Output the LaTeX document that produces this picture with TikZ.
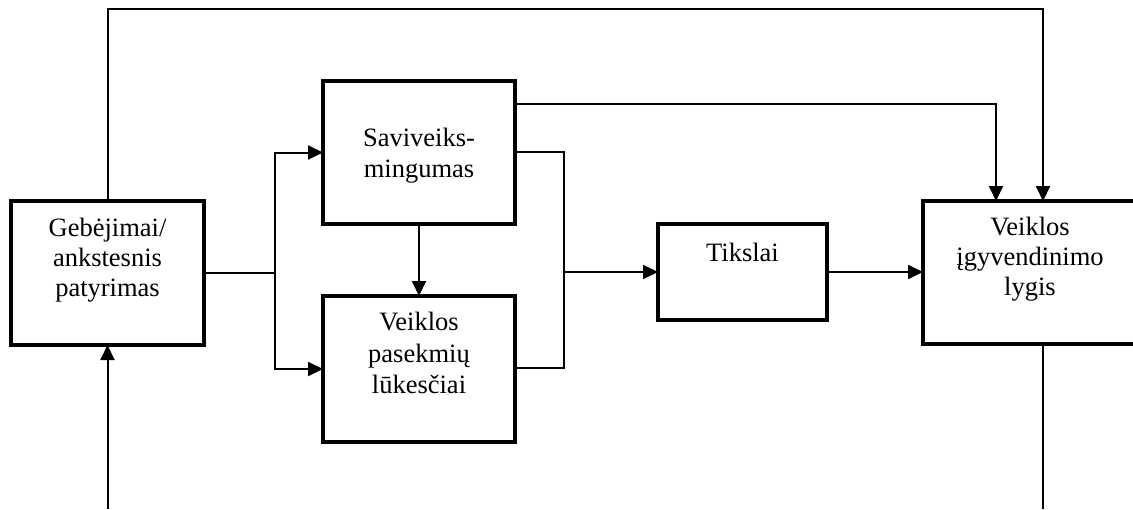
\documentclass[tikz,border=0pt]{standalone}
\usepackage{fontspec}
\setmainfont{Liberation Serif}
\usetikzlibrary{arrows.meta}
\begin{document}
\begin{tikzpicture}[x=1pt,y=1pt,
  box/.style={draw, line width=3.2pt, inner sep=0pt, outer sep=0pt},
  conn/.style={line width=2pt},
  arr/.style={conn, -{Triangle[length=15pt,width=14pt]}},
  lbl/.style={anchor=base, inner sep=0pt, font=\fontsize{26.5}{31}\selectfont}]
\clip (0,0) rectangle (1133,-509);
\fill[white] (0,0) rectangle (1133,-509);
% boxes
\node[box, minimum width=193pt, minimum height=144pt] (geb) at (107.5,-273) {};
\node[box, minimum width=192pt, minimum height=143pt] (sav) at (419,-152.5) {};
\node[box, minimum width=192pt, minimum height=146pt] (vp) at (419,-369) {};
\node[box, minimum width=169pt, minimum height=96pt] (tik) at (742.5,-272) {};
\node[box, minimum width=214pt, minimum height=143pt] (vig) at (1030,-272.5) {};
% labels
\node[lbl] (g1) at (107.5,-236) {Gebėjimai/};
\node[lbl] (g2) at (107.5,-266) {ankstesnis};
\node[lbl] (g3) at (107.5,-296) {patyrimas};
\node[lbl] (s1) at (419,-146) {Saviveiks-};
\node[lbl] (s2) at (419,-177) {mingumas};
\node[lbl] (v1) at (419,-330) {Veiklos};
\node[lbl] (v2) at (419,-362) {pasekmių};
\node[lbl] (v3) at (419,-393) {lūkesčiai};
\node[lbl] (t1) at (742.5,-261) {Tikslai};
\node[lbl] (r1) at (1030,-235) {Veiklos};
\node[lbl] (r2) at (1030,-265) {įgyvendinimo};
\node[lbl] (r3) at (1030,-295) {lygis};
% junction coordinates
\coordinate (j1) at (275,-273);
\coordinate (j2) at (564,-272);
\coordinate (tl) at (107.5,-9);
\coordinate (tr) at (1043,-9);
\coordinate (a2) at (996,-104);
\coordinate (bl) at (107.5,-509);
\coordinate (br) at (1043,-509);
% connectors
\draw[conn] (geb.east) -- (geb.east -| j1);
\draw[arr] (geb.east -| j1) |- (sav.west);
\draw[arr] (geb.east -| j1) |- (vp.west);
\draw[arr] (sav.south) -- (vp.north);
\draw[conn] (sav.east |- 0,-152) -| (j2);
\draw[conn] (vp.east |- 0,-368) -| (j2);
\draw[arr] (j2) -- (tik.west);
\draw[arr] (tik.east) -- (vig.west |- tik.east);
\draw[arr] (sav.east |- a2) -- (a2) -- (a2 |- vig.north);
\draw[arr] (geb.north) -- (tl) -- (tr) -- (tr |- vig.north);
\draw[arr] (bl) -- (geb.south);
\draw[conn] (br |- vig.south) -- (br);
\end{tikzpicture}
\end{document}
